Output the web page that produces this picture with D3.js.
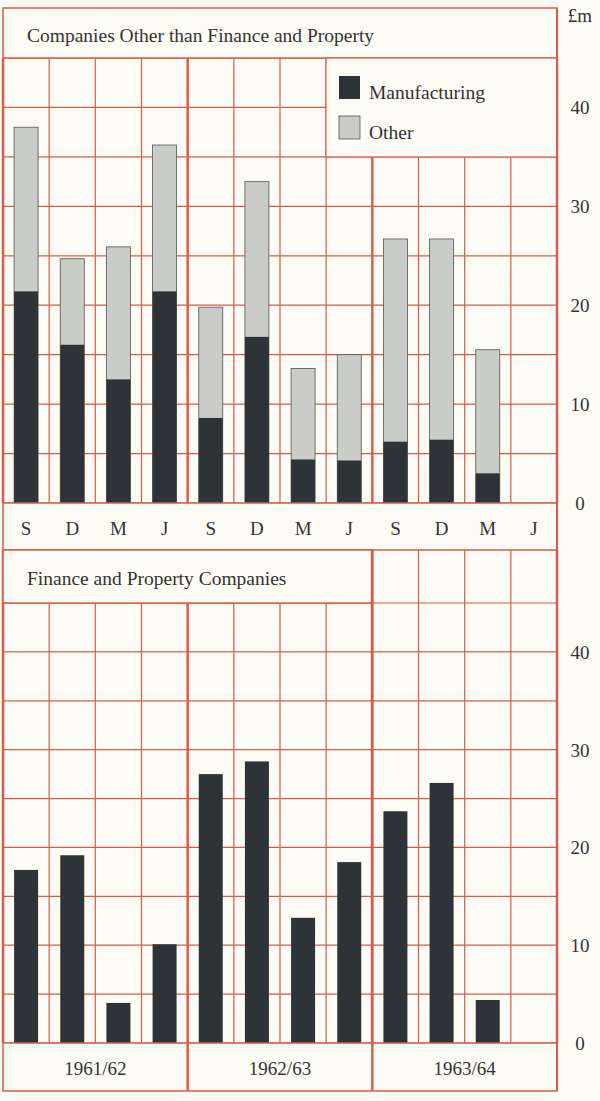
<!DOCTYPE html>
<html><head><meta charset="utf-8">
<script src="https://cdn.jsdelivr.net/npm/d3@7"></script>
<style>body{margin:0;background:#fdfcf4}svg{display:block}text{font-family:"Liberation Serif","DejaVu Serif",serif;fill:#333}</style>
</head><body><svg id="c" width="600" height="1101"></svg>
<script>
const quarters=["S","D","M","J","S","D","M","J","S","D","M","J"];
const years=["1961/62","1962/63","1963/64"];
const manufacturing=[21.4,16,12.5,21.4,8.6,16.8,4.4,4.3,6.2,6.4,3,null];
const totalOther=[38,24.7,25.9,36.2,19.8,32.5,13.6,15,26.7,26.7,15.5,null];
const finance=[17.7,19.2,4.1,10.1,27.5,28.8,12.8,18.5,23.7,26.6,4.4,null];
const yTicks=[0,10,20,30,40];

const svg=d3.select("#c");
const red="#d9584c", dark="#2d3336", light="#c9ccc7";
const L=3,R=557;
const x=d3.scaleBand().domain(d3.range(12)).range([L,R]);
const bw=24;

function panel(y0,yZero,stacked,values,topBand){
  const y=d3.scaleLinear().domain([0,45]).range([yZero,y0]);
  const g=svg.append("g");
  // horizontal grid
  d3.range(0,46,5).forEach(v=>g.append("line").attr("x1",L).attr("x2",R).attr("y1",y(v)).attr("y2",y(v)).attr("stroke",red).attr("stroke-width",1.2));
  // vertical grid
  d3.range(13).forEach(i=>{const xx=i<12?x(i):R;const thick=i%4===0;
    g.append("line").attr("x1",xx).attr("x2",xx).attr("y1",topBand).attr("y2",yZero).attr("stroke",red).attr("stroke-width",thick?2.4:1.2);});
  // bars
  values.forEach((v,i)=>{ if(v==null)return;
    const cx=x(i)+x.bandwidth()/2;
    if(stacked){
      g.append("rect").attr("x",cx-bw/2).attr("width",bw).attr("y",y(totalOther[i])).attr("height",y(0)-y(totalOther[i])).attr("fill",light).attr("stroke","#555").attr("stroke-width",0.8);
    }
    g.append("rect").attr("x",cx-bw/2).attr("width",bw).attr("y",y(v)).attr("height",y(0)-y(v)).attr("fill",dark);
  });
  // y labels
  yTicks.forEach(t=>svg.append("text").attr("x",580).attr("y",y(t)+7).attr("text-anchor","middle").attr("font-size",19).text(t));
  return y;
}

// top panel
const y1=panel(58,503,true,manufacturing,58);
svg.append("rect").attr("x",L).attr("y",8).attr("width",R-L).attr("height",50).attr("fill","#fdfcf4").attr("stroke",red).attr("stroke-width",1.5);
svg.append("text").attr("x",27).attr("y",42).attr("font-size",19.5).text("Companies Other than Finance and Property");
svg.append("text").attr("x",580).attr("y",22).attr("text-anchor","middle").attr("font-size",19).text("£m");
// legend
svg.append("rect").attr("x",326).attr("y",58).attr("width",R-326).attr("height",99).attr("fill","#fdfcf4").attr("stroke",red).attr("stroke-width",1.2);
svg.append("rect").attr("x",339).attr("y",76).attr("width",21).attr("height",23).attr("fill",dark);
svg.append("text").attr("x",369).attr("y",99).attr("font-size",19.5).text("Manufacturing");
svg.append("rect").attr("x",339).attr("y",116).attr("width",21).attr("height",23).attr("fill",light).attr("stroke","#555").attr("stroke-width",0.8);
svg.append("text").attr("x",369).attr("y",139).attr("font-size",19.5).text("Other");
// quarter band
svg.append("rect").attr("x",L).attr("y",503).attr("width",R-L).attr("height",47).attr("fill","#fdfcf4").attr("stroke",red).attr("stroke-width",1.5);
quarters.forEach((q,i)=>svg.append("text").attr("x",x(i)+x.bandwidth()/2).attr("y",535).attr("text-anchor","middle").attr("font-size",19).text(q));

// bottom panel
const y2=panel(603,1043,false,finance,550);
svg.append("rect").attr("x",L).attr("y",550).attr("width",372-L).attr("height",53).attr("fill","#fdfcf4").attr("stroke",red).attr("stroke-width",1.5);
svg.append("line").attr("x1",372).attr("x2",372).attr("y1",550).attr("y2",1043).attr("stroke",red).attr("stroke-width",2.4);
svg.append("text").attr("x",27).attr("y",585).attr("font-size",19.5).text("Finance and Property Companies");
svg.append("rect").attr("x",L).attr("y",1043).attr("width",R-L).attr("height",48).attr("fill","#fdfcf4").attr("stroke",red).attr("stroke-width",1.5);
years.forEach((yr,k)=>{
  if(k>0) svg.append("line").attr("x1",x(k*4)).attr("x2",x(k*4)).attr("y1",1043).attr("y2",1091).attr("stroke",red).attr("stroke-width",2.4);
  svg.append("text").attr("x",(x(k*4)+(k<2?x(k*4+4):R))/2).attr("y",1075).attr("text-anchor","middle").attr("font-size",19).text(yr);
});
svg.append("line").attr("x1",R).attr("x2",R).attr("y1",8).attr("y2",1091).attr("stroke",red).attr("stroke-width",2);
</script></body></html>
